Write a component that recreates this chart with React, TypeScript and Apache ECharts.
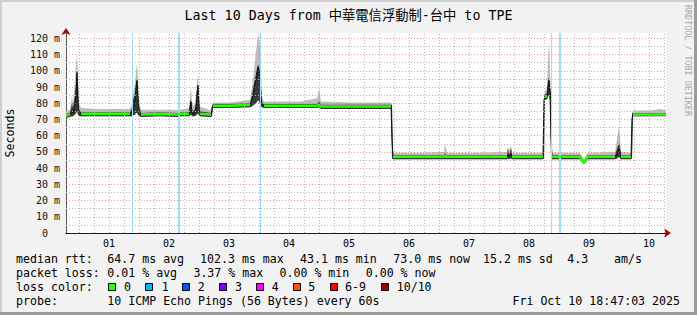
import React, { useEffect, useRef } from 'react';
import * as echarts from 'echarts';

const titleText = 'Last 10 Days from 中華電信浮動制-台中 to TPE';
const yAxisName = 'Seconds';
const watermark = 'RRDTOOL / TOBI OETIKER';

// window starts Tue Sep 30 18:47:03 and spans 240 hours
const windowStartClock = [18, 47, 3];
const windowHours = 240;
const dayLabels = ['01', '02', '03', '04', '05', '06', '07', '08', '09', '10'];
const yMax = 123.3;
const yTickValues = [0, 10, 20, 30, 40, 50, 60, 70, 80, 90, 100, 110, 120];

// hours since window start
const hours = [
  0, 1.6, 2.4, 2.8, 3.6, 4.0, 4.4, 4.8, 5.2, 6.0,
  13.6, 25.6, 26.4, 26.8, 27.6, 28.0, 28.4, 28.8, 29.2, 30.0,
  37.6, 44.8, 45.6, 49.2, 49.6, 50.0, 50.4, 51.2, 52.0, 52.4,
  52.8, 53.2, 53.6, 58.0, 58.4, 58.8, 65.6, 73.6, 74.4, 75.2,
  76.0, 76.8, 77.6, 78.0, 78.4, 79.2, 93.6, 100.4, 101.2, 102.0,
  113.6, 130.0, 130.4, 130.8, 141.6, 151.2, 151.6, 152.4, 165.6, 176.4,
  176.8, 177.2, 178.0, 178.4, 190.8, 191.2, 191.6, 192.4, 192.8, 193.2,
  193.6, 194.0, 194.4, 205.6, 206.4, 207.2, 208.0, 208.8, 219.6, 220.4,
  221.2, 221.6, 222.0, 226.0, 226.4, 226.8, 233.6, 237.6, 240,
];
// median rtt (ms)
const medianRtt = [
  72.5, 73, 75, 74, 78, 85, 99, 80, 74, 73.5,
  73.5, 73.5, 74, 76, 80, 90, 94, 82, 75, 73,
  73.5, 73, 73.5, 73.5, 77, 81, 74, 73.5, 75, 86,
  91, 78, 73.5, 73, 77, 78.5, 78.5, 79, 82, 88,
  95, 102.3, 96, 84, 79, 78.5, 78.5, 78.5, 79, 78,
  78, 78, 58, 47, 47, 47, 47.5, 47, 47, 47,
  48, 47, 49, 47, 47, 82, 84, 84.5, 90, 94,
  86, 60, 47, 47, 45, 43.1, 45.5, 47, 47, 48,
  52, 50, 47, 47, 70, 73, 73, 73, 73,
];
// lowest ping of each sample (ms)
const smokeMin = [
  71, 71.5, 72, 72, 73, 74, 75, 73, 72, 72,
  72, 72, 72, 72.5, 73, 74, 74, 73, 72, 71.5,
  72, 71.5, 72, 72, 72.5, 73, 72, 72, 72.5, 73,
  74, 72.5, 72, 71.5, 72, 77, 77, 77.5, 78, 79,
  80, 82, 80, 78, 77.5, 77, 77, 77, 77.5, 76.5,
  76.5, 76.5, 46, 45.5, 45.5, 45.5, 45.5, 45.5, 45.5, 45.5,
  46, 45.5, 46, 45.5, 45.5, 46, 82, 82.5, 84, 85,
  82, 46, 45.5, 45.5, 43.5, 42.5, 44, 45.5, 45.5, 46,
  47, 46, 45.5, 45.5, 46, 72, 72, 72, 72,
];
// highest ping of each sample (ms)
const smokeMax = [
  75, 76, 84, 80, 95, 104, 111, 98, 80, 77,
  76.5, 76.5, 80, 85, 92, 100, 104.5, 96, 82, 76,
  76, 76, 76, 77, 86, 90, 80, 78, 84, 94,
  97.5, 88, 78, 75.5, 79, 80.5, 80.5, 82, 90, 100,
  112, 123, 115, 100, 84, 81, 81, 83, 89, 81,
  80.5, 80.5, 79, 49.5, 49.5, 50, 55.5, 49.5, 49.5, 50,
  53, 50, 54, 49.5, 49.5, 85, 87, 90, 108, 118,
  100, 86, 49.5, 49.5, 47.5, 45.5, 48, 49.5, 50, 58,
  66, 60, 50, 49.5, 74, 75.5, 75.5, 76.5, 75.5,
];
// upper edge of the dense smoke (ms)
const smokeCore = [
  73.5, 74, 80, 77, 85, 92, 100, 90, 76, 74.5,
  74.5, 74.5, 77, 82, 86, 92, 95, 88, 78, 74,
  74.5, 74, 74.5, 74.5, 80, 82, 76, 75, 80, 88,
  91.5, 82, 75, 74, 78, 79.5, 79.5, 80, 85, 92,
  98, 104, 100, 88, 80, 79.5, 79.5, 79.5, 81, 79,
  79, 79, 79, 48, 48, 48, 49, 48, 48, 48,
  52.5, 48, 52.5, 48, 48, 84, 85.5, 86, 94, 96,
  90, 86, 48, 48, 46, 44, 46.5, 48, 48, 52,
  55.5, 53, 48, 48, 74, 74, 74, 74, 74,
];
// 1 where the pings of the sample are widely spread
const wideSpread = [
  0, 0, 1, 1, 1, 1, 1, 1, 1, 0,
  0, 0, 1, 1, 1, 1, 1, 1, 1, 0,
  0, 0, 0, 0, 1, 1, 1, 0, 1, 1,
  1, 1, 0, 0, 1, 0, 0, 0, 1, 1,
  1, 1, 1, 1, 1, 0, 0, 0, 0, 0,
  0, 0, 1, 0, 0, 0, 0, 0, 0, 0,
  1, 0, 1, 0, 0, 1, 0, 0, 1, 1,
  1, 1, 0, 0, 0, 0, 0, 0, 0, 1,
  1, 1, 0, 0, 1, 0, 0, 0, 0,
];
// hours (since window start) at which packets were lost
const lossEventHours = [26.5, 45.0, 77.6, 194.1, 197.6];

const rttStatsLabel = 'median rtt:';
const rttStats = ['64.7 ms avg', '102.3 ms max', '43.1 ms min', '73.0 ms now', '15.2 ms sd', '4.3', 'am/s'];
const lossStatsLabel = 'packet loss:';
const lossStats = ['0.01 % avg', '3.37 % max', '0.00 % min', '0.00 % now'];
const lossColorLabel = 'loss color:';
const lossColorLabels = ['0', '1', '2', '3', '4', '5', '6-9', '10/10'];
const probeLabel = 'probe:';
const probeText = '10 ICMP Echo Pings (56 Bytes) every 60s';
const stampText = 'Fri Oct 10 18:47:03 2025';

export default function App() {
  const ref = useRef<HTMLDivElement>(null);

  useEffect(() => {
    const el = ref.current;
    if (!el) return;
    const chart = echarts.init(el, undefined, { renderer: 'svg' });

    const mono = "'DejaVu Sans Mono', monospace";
    const titleFont = "'DejaVu Sans Mono', 'Noto Sans CJK TC', monospace";
    const lossColors = ['#26ff00', '#00b8ff', '#0059ff', '#7e00ff', '#ff00ff', '#ff5500', '#ff0000', '#a00000'];
    const lossWidths = [1, 2, 1, 1, 2];

    const startClock = windowStartClock[0] + windowStartClock[1] / 60 + windowStartClock[2] / 3600;
    const firstMidnight = 24 - startClock;
    const majorX: number[] = [];
    const minorX: number[] = [];
    const noonX: number[] = [];
    for (let d = -1; d < 11; d++) {
      const m = firstMidnight + 24 * d;
      if (m > 0 && m < windowHours) majorX.push(m);
      [6, 12, 18].forEach((q) => {
        const v = m + q;
        if (v > 0 && v < windowHours) {
          minorX.push(v);
          if (q === 12) noonX.push(v);
        }
      });
    }
    const majorY = yTickValues.filter((v) => v > 0);
    const minorY = yTickValues.map((v) => v + 5).filter((v) => v < yMax);

    const minorStyle = { color: '#b4b4b4', type: [1, 2] as any, width: 1 };
    const majorStyle = { color: 'rgba(225,90,90,0.6)', type: [1, 2] as any, width: 1 };
    const gridLines = [
      ...minorX.map((v) => ({ xAxis: v, lineStyle: minorStyle })),
      ...minorY.map((v) => ({ yAxis: v, lineStyle: minorStyle })),
      ...majorX.map((v) => ({ xAxis: v, lineStyle: majorStyle })),
      ...majorY.map((v) => ({ yAxis: v, lineStyle: majorStyle })),
    ];
    const lossLines = lossEventHours.map((v, i) => ({
      xAxis: v,
      lineStyle: { color: '#a0def8', width: lossWidths[i], type: 'solid' as any },
    }));

    const medianData = hours.map((h, i) => [h, medianRtt[i]]);
    const greenData = hours.map((h, i) => [h, wideSpread[i] ? null : medianRtt[i]]);

    const textEl = (text: string, x: number, y: number, size: number, opts: any = {}) => ({
      type: 'text',
      x,
      y,
      rotation: opts.rotation || 0,
      silent: true,
      style: {
        text,
        x: 0,
        y: 0,
        font: `${size}px ${opts.font || mono}`,
        fill: opts.fill || '#000',
        align: opts.align || 'left',
        textAlign: opts.align || 'left',
        verticalAlign: 'middle',
        textVerticalAlign: 'middle',
      },
    });

    const rowY = [259, 273, 287, 301];
    const rttX = [107.3, 200, 300, 393.3, 483, 567.3, 614];
    const lossX = [107.3, 193.4, 279.5, 365.7];
    const boxX = [108, 145, 182, 219, 256, 293, 330, 381];
    const boxLabelX = [124, 161.7, 197.7, 235, 271.7, 308.3, 345, 396.7];
    const fs = 11.6;

    const graphic: any[] = [
      { type: 'rect', silent: true, shape: { x: 0, y: 0, width: 697, height: 2 }, style: { fill: '#cfcfcf' } },
      { type: 'rect', silent: true, shape: { x: 0, y: 0, width: 2, height: 315 }, style: { fill: '#cfcfcf' } },
      { type: 'rect', silent: true, shape: { x: 0, y: 312, width: 697, height: 3 }, style: { fill: '#9b9b9b' } },
      { type: 'rect', silent: true, shape: { x: 694, y: 0, width: 3, height: 315 }, style: { fill: '#9b9b9b' } },
      textEl(titleText, 348.5, 15, 13.3, { align: 'center', font: titleFont }),
      textEl(yAxisName, 10, 133, fs, { align: 'center', rotation: Math.PI / 2 }),
      textEl(watermark, 688, 5, 8.4, { rotation: -Math.PI / 2, fill: '#a8a8a8' }),
      textEl(rttStatsLabel, 16, rowY[0], fs),
      ...rttStats.map((t, i) => textEl(t, rttX[i], rowY[0], fs)),
      textEl(lossStatsLabel, 16, rowY[1], fs),
      ...lossStats.map((t, i) => textEl(t, lossX[i], rowY[1], fs)),
      textEl(lossColorLabel, 16, rowY[2], fs),
      ...lossColorLabels.map((t, i) => ({
        type: 'rect',
        silent: true,
        shape: { x: boxX[i] + 0.5, y: 283.5, width: 7, height: 7 },
        style: { fill: lossColors[i], stroke: '#000', lineWidth: 1 },
      })),
      ...lossColorLabels.map((t, i) => textEl(t, boxLabelX[i], rowY[2], fs)),
      textEl(probeLabel, 16, rowY[3], fs),
      textEl(probeText, 107.3, rowY[3], fs),
      textEl(stampText, 680, rowY[3], fs, { align: 'right' }),
    ];

    const option: any = {
      animation: false,
      backgroundColor: '#f2f2f2',
      grid: {
        left: 66,
        right: 31,
        top: 33,
        bottom: 82,
        show: true,
        backgroundColor: '#ffffff',
        borderWidth: 0,
      },
      xAxis: [
        {
          type: 'value',
          min: 0,
          max: windowHours,
          z: 0,
          axisLine: {
            show: true,
            symbol: ['none', 'arrow'],
            symbolSize: [7, 7],
            symbolOffset: [0, 5],
            lineStyle: { color: '#b00000', width: 1 },
          },
          axisTick: { show: false },
          axisLabel: { show: false },
          splitLine: { show: false },
        },
        {
          type: 'value',
          min: 0,
          max: windowHours,
          position: 'bottom',
          z: 1,
          axisLine: { show: true, lineStyle: { color: '#1a1a1a', width: 1 } },
          axisTick: { show: false },
          splitLine: { show: false },
          axisLabel: {
            show: true,
            customValues: noonX,
            margin: 5,
            fontFamily: mono,
            fontSize: 10,
            color: '#000',
            formatter: (v: number) => {
              const idx = noonX.findIndex((n) => Math.abs(n - v) < 1e-6);
              return idx >= 0 ? dayLabels[idx] : '';
            },
          },
        },
      ],
      yAxis: [
        {
          type: 'value',
          min: 0,
          max: yMax,
          interval: 10,
          z: 0,
          axisLine: {
            show: true,
            symbol: ['none', 'arrow'],
            symbolSize: [7, 7],
            symbolOffset: [0, 5],
            lineStyle: { color: '#b00000', width: 1 },
          },
          axisTick: { show: false },
          axisLabel: { show: false },
          splitLine: { show: false },
        },
        {
          type: 'value',
          min: 0,
          max: yMax,
          interval: 10,
          position: 'left',
          z: 1,
          axisLine: { show: true, lineStyle: { color: '#555555', width: 1 } },
          axisTick: { show: false },
          splitLine: { show: false },
          axisLabel: {
            show: true,
            margin: 6,
            fontFamily: mono,
            fontSize: 10,
            color: '#111',
            showMaxLabel: false,
            formatter: (v: number) => {
              if (!yTickValues.includes(v)) return '';
              return v === 0 ? '0\u00a0\u00a0' : `${v} m`;
            },
          },
        },
      ],
      series: [
        {
          type: 'line',
          xAxisIndex: 1,
          yAxisIndex: 1,
          z: 1,
          silent: true,
          data: [],
          markLine: {
            silent: true,
            symbol: ['none', 'none'],
            label: { show: false },
            animation: false,
            data: gridLines,
          },
        },
        {
          type: 'line',
          xAxisIndex: 1,
          yAxisIndex: 1,
          z: 2,
          silent: true,
          data: [],
          markLine: {
            silent: true,
            symbol: ['none', 'none'],
            label: { show: false },
            animation: false,
            data: lossLines,
          },
        },
        {
          type: 'custom',
          xAxisIndex: 1,
          yAxisIndex: 1,
          z: 3,
          silent: true,
          clip: true,
          data: [[0, 0]],
          renderItem: (_params: any, api: any) => {
            const upper = hours.map((h, i) => api.coord([h, smokeMax[i]]));
            const core = hours.map((h, i) => api.coord([h, smokeCore[i]]));
            const lower = hours.map((h, i) => api.coord([h, smokeMin[i]])).reverse();
            return {
              type: 'group',
              children: [
                { type: 'polygon', shape: { points: [...upper, ...lower] }, style: { fill: '#bdbdbd' } },
                { type: 'polygon', shape: { points: [...core, ...lower] }, style: { fill: '#383838' } },
              ],
            };
          },
        },
        {
          type: 'line',
          xAxisIndex: 1,
          yAxisIndex: 1,
          z: 4,
          silent: true,
          showSymbol: false,
          data: medianData,
          lineStyle: { color: '#111', width: 1 },
        },
        {
          type: 'line',
          xAxisIndex: 1,
          yAxisIndex: 1,
          z: 5,
          silent: true,
          showSymbol: false,
          connectNulls: false,
          data: greenData,
          lineStyle: { color: '#26ff00', width: 2.5 },
        },
      ],
      graphic,
    };

    chart.setOption(option);
    return () => {
      chart.dispose();
    };
  }, []);

  return (
    <div
      ref={ref}
      style={{ position: 'fixed', left: 0, top: 0, width: 697, height: 315 }}
    />
  );
}
